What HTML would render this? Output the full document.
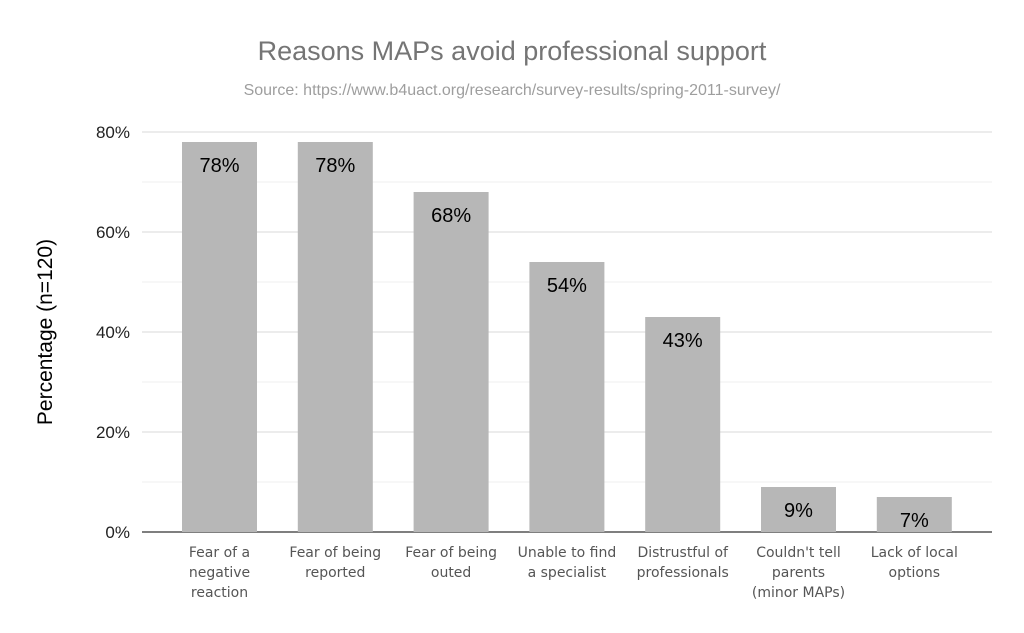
<!DOCTYPE html>
<html><head><meta charset="utf-8"><style>
body{margin:0;background:#fff;}
svg{display:block;font-family:"Liberation Sans",sans-serif;}
</style></head><body>
<svg id="chart" width="1024" height="633">
<text x="512" y="60" text-anchor="middle" font-size="27" fill="#757575">Reasons MAPs avoid professional support</text>
<text x="512" y="95" text-anchor="middle" font-size="16" fill="#9e9e9e">Source: https://www.b4uact.org/research/survey-results/spring-2011-survey/</text>
<text transform="translate(52,332) rotate(-90)" text-anchor="middle" font-size="21" fill="#000">Percentage (n=120)</text>
<g id="grid"></g><g id="bars"></g><g id="xlabels"></g>
</svg>
<script>
const categories=[["Fear of a","negative","reaction"],["Fear of being","reported"],["Fear of being","outed"],["Unable to find","a specialist"],["Distrustful of","professionals"],["Couldn't tell","parents","(minor MAPs)"],["Lack of local","options"]];
const values=[78,78,68,54,43,9,7];
const ticks=[0,20,40,60,80];
const minorTicks=[10,30,50,70];
const NS="http://www.w3.org/2000/svg";
const y=v=>532-v*5;
const bandStart=161.6,band=115.8,barW=75;
const x=i=>bandStart+band*i+band/2;
function mk(tag,attrs,parent,text){const e=document.createElementNS(NS,tag);for(const k in attrs)e.setAttribute(k,attrs[k]);if(text!==undefined)e.textContent=text;parent.appendChild(e);return e;}
const grid=document.getElementById('grid'),bars=document.getElementById('bars'),xl=document.getElementById('xlabels');
minorTicks.forEach(t=>{const l=mk('line',{x1:142,x2:992,y1:y(t),y2:y(t),stroke:'#efefef'},grid);

});
ticks.forEach(t=>{if(t>0){const l=mk('line',{x1:142,x2:992,y1:y(t),y2:y(t),stroke:'#d9d9d9'},grid);

}
const tx=mk('text',{x:130,y:y(t)+6,'text-anchor':'end','font-size':17,fill:'#222'},grid,t+'%');

});
values.forEach((v,i)=>{const r=mk('rect',{x:x(i)-barW/2,y:y(v),width:barW,height:y(0)-y(v),fill:'#b7b7b7'},bars);


const t=mk('text',{x:x(i),y:y(v)+30,'text-anchor':'middle','font-size':20,fill:'#000'},bars,v+'%');


categories[i].forEach((ln,j)=>{const c=mk('text',{x:x(i),y:557+j*20,'text-anchor':'middle','font-size':14,'font-family':'"DejaVu Sans",sans-serif',fill:'#555'},xl,ln);

});});
const ax=mk('line',{x1:142,x2:992,y1:532,y2:532,stroke:'#333','stroke-width':1.2},grid);


</script>
</body></html>
